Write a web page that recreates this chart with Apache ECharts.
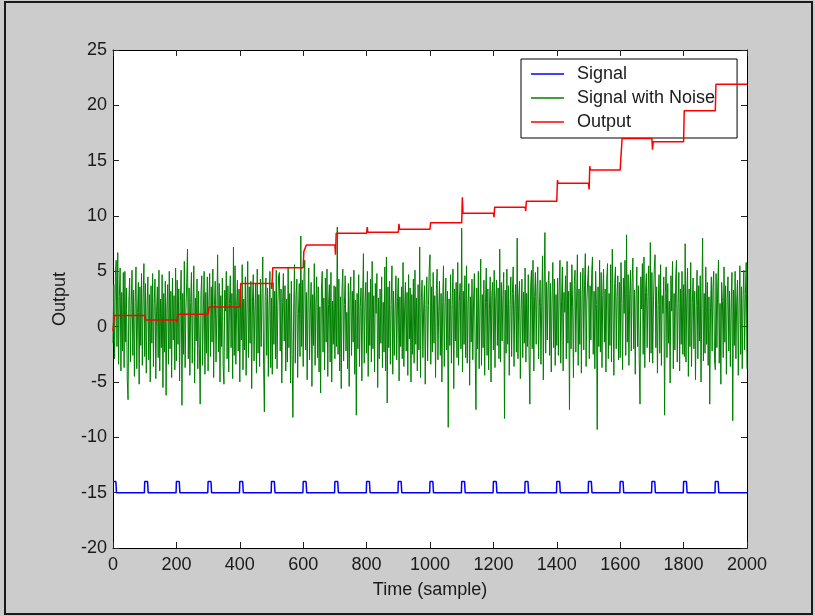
<!DOCTYPE html>
<html>
<head>
<meta charset="utf-8">
<script src="https://cdn.jsdelivr.net/npm/echarts@6/dist/echarts.min.js"></script>
<style>
html,body{margin:0;padding:0;background:#cccccc;}
#chart{width:815px;height:616px;}
</style>
</head>
<body>
<div id="chart"></div>
<script>
// ---- data ----
const seriesNames = ['Signal', 'Signal with Noise', 'Output'];

// Signal: rectangular pulses every 100 samples on a -15 baseline
const pulseStarts = [0, 100, 200, 300, 400, 500, 600, 700, 800, 900, 1000, 1100, 1200, 1300, 1400, 1500, 1600, 1700, 1800, 1900];
const signalLow = -15;
const signalHigh = -14;
const pulseWidth = 11;

// Signal with noise: one reading every 2.5 samples (0 .. 2000)
const noiseStep = 2.5;
const noiseValues = [
 -1.5, 3.8, -2.9, 4.6, 6.0, -1.8, 6.7, -3.4, 2.7, 5.3, -4.0, 3.1, -2.2, 4.9, -3.7, 5.0, -1.4, 3.5, -4.8, -6.6, 2.4, 4.4, -3.2, 1.9, 5.1, -2.6, 3.3, -4.5, 2.2, 5.4, -3.8, 1.3, 4.0, -5.2, 3.6, -1.7, 4.8, -3.5, 2.6, 5.7,
 -2.7, 3.9, -4.2, 1.8, 4.5, -3.0, 2.9, -5.0, 3.7, -1.5, 4.8, -3.6, 2.1, 4.3, -4.7, 1.4, 3.6, -2.8, 5.1, -4.0, 2.5, -1.9, 4.7, -5.5, 3.0, -2.3, 4.1, -6.2, 1.7, 3.8, -3.4, 5.0, -2.0, 3.2, -4.6, 4.4, -1.2, 2.8, -3.9, 5.3,
 -3.1, 4.2, -1.6, 3.4, -4.9, 2.3, 5.1, -7.1, 3.0, -2.5, 5.9, -3.7, 1.5, 4.0, 7.0, -2.9, 3.5, -4.4, 2.2, 4.9, -3.3, 1.8, 5.5, -5.1, 2.6, -1.3, 4.3, -3.8, 3.2, -2.0, -7.0, 2.9, 4.6, -3.5, 1.6, 5.0, -4.3, 3.1, -2.4, 4.5,
 -4.0, 2.4, 4.8, -2.7, 3.6, -1.4, 5.2, -4.6, 2.0, 4.1, -3.2, 1.2, 6.5, -2.3, 3.9, -5.0, 2.8, -1.8, 4.4, -3.6, -5.2, 3.3, 1.4, 5.0, -2.9, 3.7, -4.1, 2.1, 4.6, -1.9, 3.0, -4.7, 7.2, -2.6, 5.5, -3.4, 1.9, 4.2, -2.2, 3.4,
 -5.0, 3.2, -1.2, 5.6, -3.9, 2.5, -2.1, 4.5, -4.4, 1.7, 5.9, -2.8, 3.6, -1.5, 4.1, -5.6, 2.3, 4.7, -3.1, 1.4, 3.9, -4.2, 5.2, -2.4, 2.9, -3.6, 4.3, -1.8, 3.0, 6.3, -3.4, -7.7, 2.7, 4.4, -2.6, 3.5, -4.5, 1.8, 5.0, -3.7,
 2.6, -4.3, 4.0, -1.6, 3.2, -2.9, 5.1, -3.8, 1.9, 4.6, 4.9, -2.2, 3.4, -5.1, 2.2, 4.8, -1.3, 3.7, -4.0, 2.5, -3.2, 5.4, -1.9, 3.0, -5.1, 4.1, -2.5, -8.2, 1.6, 5.6, -3.3, 2.8, 4.3, -4.6, 1.2, 3.9, -2.7, 8.2, -1.8, 4.2,
 -3.6, 4.7, 6.0, -2.1, 3.1, -4.8, 2.4, 5.3, -3.0, 1.5, 4.0, -5.4, 2.9, -1.7, 5.7, -3.5, 2.2, 4.5, -2.8, 3.6, -4.1, 1.8, -6.0, 3.4, 5.0, -2.3, 2.6, -3.9, 4.4, -1.4, 5.2, -4.5, 2.0, 3.8, -3.2, 4.9, -5.0, 2.3, -1.6, 3.7,
 -2.9, 3.6, -1.8, 9.0, -2.5, 4.3, -4.0, 2.7, -5.6, 3.4, 5.2, -3.1, 2.0, 4.6, -2.2, 1.3, -3.8, 3.9, -5.4, 2.8, 4.5, -2.6, 3.2, -1.4, 5.1, -4.3, 2.4, -8.0, 3.0, -2.0, 4.7, -3.6, 1.8, 3.5, -4.9, 2.5, 6.6, -3.3, 2.1, 4.0,
 -2.4, 5.0, -4.5, 3.1, -1.7, 4.3, -3.2, 5.9, -2.0, 2.8, -4.1, 3.9, 1.2, 4.8, -5.5, 2.6, -2.9, 3.4, -1.5, 4.5, -3.7, 2.2, -2.3, 5.4, -4.0, 6.3, -6.9, 3.6, -1.9, 4.1, -3.4, 2.0, 5.5, -4.3, 3.2, -2.6, 1.5, 4.6, -3.0, 2.3,
 4.4, -4.9, 2.7, -1.8, 3.6, -2.9, 5.8, -3.6, 1.7, 4.0, -2.2, 3.1, -4.4, 4.7, -1.1, 3.5, -5.0, 2.9, -2.5, 4.3, -3.3, 5.1, -1.6, 2.6, -4.0, 3.8, -2.1, 7.2, -4.6, 2.4, 4.2, -2.8, 1.6, 3.7, -5.2, 2.0, 4.5, -3.1, 1.9, 5.2,
 6.5, -3.4, 3.6, -2.3, 4.9, -1.5, 2.8, -4.6, 3.3, 5.2, -3.0, 1.4, 4.1, -2.6, 3.0, -5.0, 2.2, 5.5, -3.6, 1.9, 4.4, -2.1, 3.2, -9.1, 2.5, -1.7, 4.7, -3.3, 2.0, 5.2, -5.6, 3.4, -1.3, 4.0, -2.8, 5.8, -3.5, 2.3, 3.9, -2.0,
 8.9, -4.1, 3.2, -1.6, 4.6, -2.8, 5.5, -3.3, 2.1, 3.9, -5.3, 2.7, -1.4, 4.3, -3.0, 2.4, 4.8, -2.2, -7.5, 3.5, -2.0, 5.0, -3.8, 1.7, 6.1, -3.5, 2.9, -1.9, 4.2, -4.4, 2.2, 5.3, -2.6, 3.4, -3.9, 1.6, 4.5, -5.0, 2.8, 4.0,
 -2.1, 5.1, -3.7, 2.5, 4.2, -1.7, 3.5, -2.9, 7.0, -3.2, 4.0, -1.3, 2.8, 4.9, -8.3, 3.3, -2.4, 5.2, -1.6, 3.7, -4.4, 2.0, 4.5, -2.7, 3.0, 5.4, -3.6, 1.9, 3.8, -2.3, 8.0, -2.9, 2.6, 4.1, -4.7, 1.5, 4.3, -2.8, 3.1, -1.5,
 5.3, -3.2, 3.0, -1.8, 4.7, -2.5, -7.0, 3.6, 5.1, -2.0, 6.0, -4.0, 2.7, 4.9, -1.6, 3.3, 5.4, -2.9, 1.8, 4.2, -3.4, 2.2, 6.4, -4.8, 3.6, 8.5, -2.4, 4.0, -1.2, 3.7, 5.0, -2.6, 3.9, -4.1, 2.5, 5.8, -1.9, 4.3, -3.5, 2.9,
 -1.7, 4.4, -2.6, 3.5, 6.0, -3.3, 2.3, 5.4, -4.0, 3.1, 1.3, 4.6, -2.9, 5.9, -1.5, 3.2, -7.5, 4.0, -2.0, 5.6, 1.7, -4.6, 3.8, 5.1, -2.3, 2.6, 6.5, -3.5, 3.4, -1.6, 4.9, -4.2, 2.9, 5.3, -2.1, 3.7, 6.6, -3.6, 2.4, 4.2,
 5.5, -2.9, 3.7, -1.2, 4.8, 6.3, -2.5, 3.2, -3.8, 5.0, 2.0, -9.3, 3.6, -1.8, 6.0, -2.3, 4.9, -3.7, 2.8, 5.2, -1.4, 3.4, -4.1, 4.3, 5.7, -2.9, 3.0, -1.7, 5.6, -3.2, 7.0, 1.6, -4.4, 3.9, 5.4, -2.0, 2.7, 4.6, -3.0, 4.0,
 -2.8, 5.8, 2.1, -3.9, 4.4, 1.2, 6.0, -2.6, 8.3, -1.4, 4.7, -3.5, 2.9, 5.1, -2.2, 4.0, 6.2, -2.0, 3.3, -4.3, 2.5, 5.4, -1.8, 3.7, -3.0, -7.0, 4.5, 1.6, 5.7, -2.5, 6.3, -3.7, 3.1, 4.8, -1.9, 2.7, 5.5, -3.2, 7.6, -2.4,
 4.9, -3.3, 2.4, 5.2, 6.5, -1.9, 3.6, -4.2, 2.0, 4.7, -2.4, 5.6, -3.5, 2.8, 1.2, 4.5, -8.0, 3.1, 5.4, -2.8, 3.9, -1.5, 2.3, -5.1, 4.6, 1.4, 5.9, -3.8, 3.0, -2.1, 4.3, 6.0, -3.2, 2.1, 4.9, -4.0, 3.4, -1.6, 5.0, -2.5,
 3.8, -2.7, 7.5, -3.2, 2.6, 5.3, -4.5, 3.4, -1.8, 5.8, -3.6, 2.2, 4.4, -2.0, 3.2, -4.8, 1.9, 5.1, -2.9, 3.7, -1.3, 4.6, -5.0, 2.4, 8.0, -3.1, 3.0, -2.4, 5.4, -1.6, 4.0, -3.5, 2.7, -7.0, 1.7, 4.5, -2.2, 3.5, 5.0, -3.0,
 -3.9, 4.8, -1.9, 3.5, 6.0, -3.3, 2.1, -5.2, 4.0, 2.3, -2.8, 5.4, -1.4, 3.7, -4.3, 2.6, 4.5, -2.2, 3.2, -3.6, 1.6, 4.9, -8.5, 3.3, -1.7, 5.0, -2.9, 2.4, 4.2, -4.4, 1.9, 5.5, -2.5, 3.6, -3.8, 2.8, 5.1, -2.1, 3.0, 5.8,
 -3.8
];

// Output: stair-step breakpoints (sample, value)
const outputX = [0, 4, 100, 101, 103, 200, 202, 204, 300, 301, 303, 400, 403, 500, 501, 504, 600, 602, 610,
  700, 702, 704, 800, 802, 804, 900, 902, 904, 1000, 1002, 1100, 1102, 1104, 1200, 1202, 1204,
  1300, 1302, 1304, 1400, 1402, 1404, 1500, 1502, 1504, 1506, 1600, 1602, 1606, 1700, 1702, 1704,
  1800, 1802, 1900, 1902, 2000];
const outputY = [-0.4, 1.0, 1.0, 0.8, 0.6, 0.6, 0.4, 1.12, 1.12, 1.2, 1.78, 1.78, 3.9, 3.9, 3.4, 5.33, 5.33, 6.8, 7.38,
  7.38, 6.5, 8.43, 8.43, 9.0, 8.53, 8.53, 9.3, 8.8, 8.8, 9.4, 9.4, 11.7, 10.24, 10.24, 9.9, 10.8,
  10.8, 10.45, 11.33, 11.33, 13.25, 12.95, 12.95, 12.4, 14.5, 14.15, 14.15, 15.2, 17.0, 17.0, 16.0, 16.7,
  16.7, 19.5, 19.5, 21.9, 21.9];

// axes
const xRange = [0, 2000, 200];
const yRange = [-20, 25, 5];

// ---- build series data ----
const signalData = [];
pulseStarts.forEach(function (p, i) {
  if (i === 0) {
    signalData.push([p, signalHigh]);
  } else {
    signalData.push([p - 1, signalLow]);
    signalData.push([p, signalHigh]);
  }
  signalData.push([p + pulseWidth - 2, signalHigh]);
  signalData.push([p + pulseWidth, signalLow]);
});
signalData.push([xRange[1], signalLow]);

const noiseData = noiseValues.map(function (v, i) { return [i * noiseStep, v]; });
const outputData = outputX.map(function (x, i) { return [x, outputY[i]]; });

const FONT = "'Liberation Sans', Arial, Helvetica, sans-serif";
const TXT = '#1a1a1a';

const chart = echarts.init(document.getElementById('chart'), null, { renderer: 'canvas' });

function plain(v) { return String(v); }

function xAxisCfg(pos, labels) {
  return {
    type: 'value', position: pos, min: xRange[0], max: xRange[1], interval: xRange[2],
    axisLine: { show: true, onZero: false, lineStyle: { color: '#000', width: 1 } },
    axisTick: { show: true, inside: true, length: 6, lineStyle: { color: '#222', width: 1 } },
    axisLabel: { show: labels, color: TXT, fontFamily: FONT, fontSize: 18, margin: 8, formatter: plain },
    splitLine: { show: false },
    name: labels ? 'Time (sample)' : '', nameLocation: 'middle', nameGap: 33,
    nameTextStyle: { color: TXT, fontFamily: FONT, fontSize: 18 }
  };
}
function yAxisCfg(pos, labels) {
  return {
    type: 'value', position: pos, min: yRange[0], max: yRange[1], interval: yRange[2],
    axisLine: { show: true, onZero: false, lineStyle: { color: '#000', width: 1 } },
    axisTick: { show: true, inside: true, length: 6, lineStyle: { color: '#222', width: 1 } },
    axisLabel: { show: labels, color: TXT, fontFamily: FONT, fontSize: 18, margin: 6, formatter: plain },
    splitLine: { show: false },
    name: labels ? 'Output' : '', nameLocation: 'middle', nameGap: 44, nameRotate: 90,
    nameTextStyle: { color: TXT, fontFamily: FONT, fontSize: 18 }
  };
}

chart.setOption({
  animation: false,
  backgroundColor: '#cccccc',
  graphic: [{
    type: 'rect', silent: true, z: 100,
    shape: { x: 5, y: 2, width: 807, height: 612 },
    style: { fill: 'none', stroke: '#1a1a1a', lineWidth: 2 }
  }],
  grid: {
    left: 113, top: 50, width: 634, height: 498,
    show: true, backgroundColor: '#ffffff', borderWidth: 0
  },
  legend: {
    left: 521, top: 59, orient: 'vertical',
    backgroundColor: '#ffffff', borderColor: '#000', borderWidth: 1,
    padding: [5, 22, 6, 10],
    itemWidth: 33, itemHeight: 1.5, itemGap: 4,
    icon: 'rect',
    textStyle: { color: TXT, fontFamily: FONT, fontSize: 18, lineHeight: 20, padding: [0, 0, 0, 8] },
    data: seriesNames
  },
  xAxis: [xAxisCfg('bottom', true), xAxisCfg('top', false)],
  yAxis: [yAxisCfg('left', true), yAxisCfg('right', false)],
  series: [
    { name: seriesNames[0], type: 'line', xAxisIndex: 0, yAxisIndex: 0, data: signalData,
      symbol: 'none', lineStyle: { color: '#0000ff', width: 1.5 }, itemStyle: { color: '#0000ff' }, z: 2 },
    { name: seriesNames[1], type: 'line', xAxisIndex: 0, yAxisIndex: 0, data: noiseData,
      symbol: 'none', sampling: 'none', lineStyle: { color: '#008000', width: 1 }, itemStyle: { color: '#008000' }, z: 3 },
    { name: seriesNames[2], type: 'line', xAxisIndex: 0, yAxisIndex: 0, data: outputData,
      symbol: 'none', lineStyle: { color: '#ff0000', width: 1.5 }, itemStyle: { color: '#ff0000' }, z: 4 }
  ]
});
</script>
</body>
</html>
